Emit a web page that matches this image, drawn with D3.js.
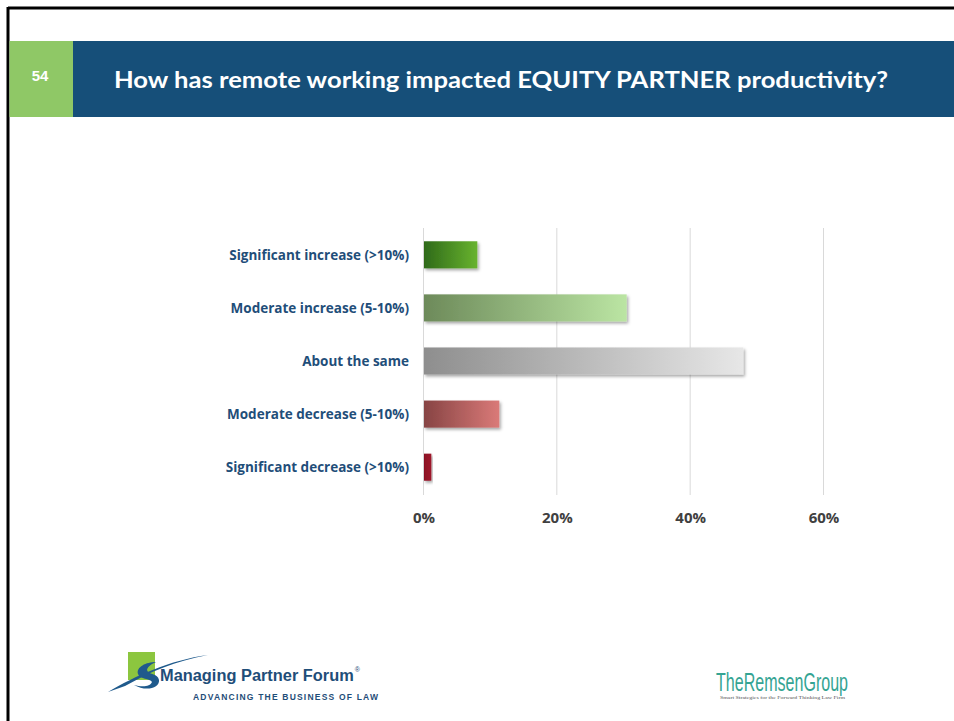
<!DOCTYPE html>
<html>
<head>
<meta charset="utf-8">
<script src="https://cdn.jsdelivr.net/npm/d3@7"></script>
<style>
  html, body { margin: 0; padding: 0; background: #fff; }
  svg { display: block; }
</style>
</head>
<body>
<svg id="slide" width="954" height="721"></svg>
<script>
// Survey responses: share of firms by change in equity partner productivity
const categories = [
  "Significant increase (>10%)",
  "Moderate increase (5-10%)",
  "About the same",
  "Moderate decrease (5-10%)",
  "Significant decrease (>10%)"
];
const values = [0.08, 0.304, 0.479, 0.113, 0.011];
const tickValues = [0, 0.2, 0.4, 0.6];
const gradientStops = [
  ["#2f6a19", "#68b32f"],
  ["#6d8a5a", "#bbe5a3"],
  ["#8e8e8e", "#e7e7e7"],
  ["#874444", "#da7a78"],
  ["#8a1023", "#9f1a2c"]
];

const svg = d3.select("#slide");
const W = 954, H = 721;

// Slide frame
svg.append("rect").attr("x", 0).attr("y", 0).attr("width", W).attr("height", H).attr("fill", "#fff");
svg.append("line").attr("x1", 8).attr("x2", W).attr("y1", 8).attr("y2", 8)
  .attr("stroke", "#000").attr("stroke-width", 3);
svg.append("line").attr("x1", 8).attr("x2", 8).attr("y1", 7).attr("y2", H)
  .attr("stroke", "#000").attr("stroke-width", 3);

// Header band
svg.append("rect").attr("x", 9.5).attr("y", 41).attr("width", 64).attr("height", 76).attr("fill", "#8fc866");
svg.append("rect").attr("x", 73).attr("y", 41).attr("width", W - 73).attr("height", 76).attr("fill", "#164f79");
svg.append("text").attr("x", 40).attr("y", 81).attr("text-anchor", "middle")
  .attr("font-family", "Liberation Sans, Arial, sans-serif").attr("font-weight", "bold")
  .attr("font-size", 15).attr("fill", "#fff").text("54");
svg.append("text").attr("x", 114).attr("y", 88)
  .attr("font-family", "Lato, sans-serif").attr("font-weight", "bold")
  .attr("font-size", 23.5).attr("fill", "#fff")
  .attr("textLength", 774).attr("lengthAdjust", "spacingAndGlyphs")
  .text("How has remote working impacted EQUITY PARTNER productivity?");

// Chart
const x = d3.scaleLinear().domain([0, 0.6]).range([423.5, 823.5]);
const y = d3.scaleBand().domain(categories).range([228, 494]).paddingInner(0.49).paddingOuter(0.25);

const defs = svg.append("defs");
const shadow = defs.append("filter").attr("id", "barShadow")
  .attr("x", "-10%").attr("y", "-20%").attr("width", "130%").attr("height", "160%");
shadow.append("feDropShadow").attr("dx", 1.5).attr("dy", 2).attr("stdDeviation", 1.5)
  .attr("flood-color", "#000").attr("flood-opacity", 0.35);

gradientStops.forEach((c, i) => {
  const g = defs.append("linearGradient").attr("id", "grad" + i)
    .attr("x1", "0%").attr("x2", "100%").attr("y1", "0%").attr("y2", "0%");
  g.append("stop").attr("offset", "0%").attr("stop-color", c[0]);
  g.append("stop").attr("offset", "100%").attr("stop-color", c[1]);
});

// Vertical gridlines
svg.append("g").selectAll("line").data(tickValues).join("line")
  .attr("x1", d => x(d)).attr("x2", d => x(d))
  .attr("y1", 228).attr("y2", 495)
  .attr("stroke", "#d9d9d9").attr("stroke-width", 1);

// Bars
svg.append("g").selectAll("rect").data(values).join("rect")
  .attr("x", x(0) + 0.5)
  .attr("y", (d, i) => y(categories[i]))
  .attr("width", d => x(d) - x(0))
  .attr("height", y.bandwidth())
  .attr("fill", (d, i) => `url(#grad${i})`)
  .attr("filter", "url(#barShadow)");

// Category axis
const yAxis = svg.append("g").attr("transform", "translate(409,0)")
  .call(d3.axisLeft(y).tickSize(0).tickPadding(0));
yAxis.select(".domain").remove();
yAxis.selectAll("text")
  .attr("font-family", "Open Sans, sans-serif").attr("font-weight", "bold")
  .attr("font-size", 13.5).attr("fill", "#1f4e79").attr("dy", "0.35em");

// Value axis
const xAxis = svg.append("g").attr("transform", "translate(0,512)")
  .call(d3.axisBottom(x).tickValues(tickValues).tickFormat(d3.format(".0%")).tickSize(0).tickPadding(0));
xAxis.select(".domain").remove();
xAxis.selectAll("text")
  .attr("font-family", "Open Sans, sans-serif").attr("font-weight", "bold")
  .attr("font-size", 15).attr("fill", "#404040").attr("dy", "0.75em");

// Managing Partner Forum logo
const mpf = svg.append("g");
mpf.append("rect").attr("x", 128).attr("y", 652).attr("width", 27).attr("height", 28).attr("fill", "#8cc63f");
mpf.append("path")
  .attr("d", "M108,692 C135,676 170,660 208,655 C175,661 150,672 125,686 Z")
  .attr("fill", "#1f5a8c");
mpf.append("path")
  .attr("d", "M156,662 C146,662 136,667 138,674 C140,680 150,678 152,682 C150,687 142,687 134,685 C146,692 160,688 159,680 C158,673 148,675 147,670 C148,666 152,664 156,662 Z")
  .attr("fill", "#1f5a8c");
// Wordmark sized so its natural width spans the logo; the mark follows as a superscript
const mpfName = mpf.append("text").attr("x", 160).attr("y", 681)
  .attr("font-family", "Liberation Sans Narrow, Liberation Sans, sans-serif")
  .attr("font-weight", "bold")
  .attr("font-size", 20).attr("fill", "#1f4e79");
const mpfWord = mpfName.append("tspan").text("Managing Partner Forum");
const natural = mpfWord.node().getComputedTextLength();
mpfName.attr("font-size", 20 * 194 / natural);
mpfName.append("tspan").attr("font-size", 7).attr("font-weight", "normal")
  .attr("dx", 1).attr("dy", -9).text("®");
mpf.append("text").attr("x", 193).attr("y", 700)
  .attr("font-family", "Liberation Sans, sans-serif").attr("font-weight", "bold")
  .attr("font-size", 8.5).attr("fill", "#1f4e79")
  .attr("textLength", 185).attr("lengthAdjust", "spacing")
  .text("ADVANCING THE BUSINESS OF LAW");

// The Remsen Group logo
const rg = svg.append("g");
rg.append("text").attr("x", 716).attr("y", 691)
  .attr("font-family", "Liberation Sans Narrow, Liberation Sans, sans-serif")
  .attr("font-size", 25).attr("fill", "#35a493")
  .attr("textLength", 132).attr("lengthAdjust", "spacingAndGlyphs")
  .text("TheRemsenGroup");
rg.append("text").attr("x", 720).attr("y", 699)
  .attr("font-family", "Liberation Serif, serif")
  .attr("font-size", 4).attr("fill", "#555")
  .attr("textLength", 125).attr("lengthAdjust", "spacingAndGlyphs")
  .text("Smart Strategies for the Forward Thinking Law Firm");
</script>
</body>
</html>
